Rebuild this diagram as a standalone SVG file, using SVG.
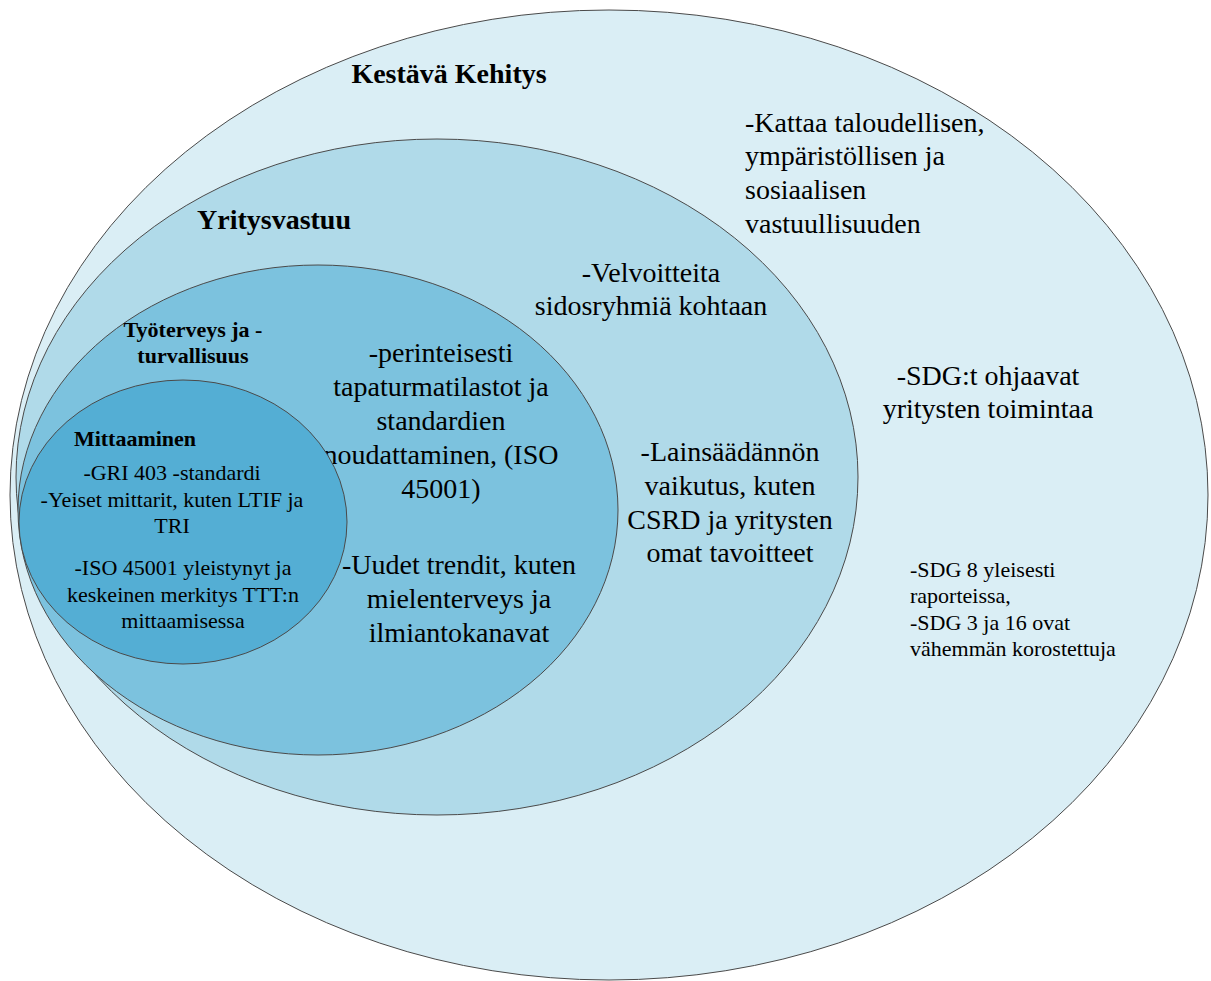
<svg xmlns="http://www.w3.org/2000/svg" width="1211" height="981" viewBox="0 0 1211 981">
<style>
  .e { stroke: #4a4a4a; stroke-width: 1; }
  text { font-family: "Liberation Serif", "Times New Roman", serif; fill: #000; }
  .b { font-weight: bold; }
  .t28 { font-size: 28px; }
  .t22 { font-size: 22px; }
  .c { text-anchor: middle; }
</style>
<rect x="0" y="0" width="1211" height="981" fill="#ffffff"/>
<g id="kestava-kehitys">
  <ellipse class="e" cx="609" cy="495" rx="599" ry="485" fill="#daeef5"/>
  <text class="b t28" x="449" y="83" text-anchor="middle">Kestävä Kehitys</text>
  <text class="t28" x="745" y="132">-Kattaa taloudellisen,</text>
  <text class="t28" x="745" y="165">ympäristöllisen ja</text>
  <text class="t28" x="745" y="199">sosiaalisen</text>
  <text class="t28" x="745" y="233">vastuullisuuden</text>
  <text class="t28 c" x="988" y="385">-SDG:t ohjaavat</text>
  <text class="t28 c" x="988" y="418">yritysten toimintaa</text>
  <text class="t22" x="910" y="577">-SDG 8 yleisesti</text>
  <text class="t22" x="910" y="603">raporteissa,</text>
  <text class="t22" x="910" y="630">-SDG 3 ja 16 ovat</text>
  <text class="t22" x="910" y="656">vähemmän korostettuja</text>
</g>
<g id="yritysvastuu">
  <ellipse class="e" cx="437" cy="477" rx="421" ry="338" fill="#b0dae9"/>
  <text class="b t28" x="274" y="229" text-anchor="middle">Yritysvastuu</text>
  <text class="t28 c" x="651" y="282">-Velvoitteita</text>
  <text class="t28 c" x="651" y="315">sidosryhmiä kohtaan</text>
  <text class="t28 c" x="730" y="461">-Lainsäädännön</text>
  <text class="t28 c" x="730" y="495">vaikutus, kuten</text>
  <text class="t28 c" x="730" y="529">CSRD ja yritysten</text>
  <text class="t28 c" x="730" y="562">omat tavoitteet</text>
</g>
<g id="tyoterveys">
  <ellipse class="e" cx="318" cy="510" rx="300" ry="245" fill="#7cc2de"/>
  <text class="b t22 c" x="193" y="337">Työterveys ja -</text>
  <text class="b t22 c" x="193" y="363">turvallisuus</text>
  <text class="t28 c" x="441" y="362">-perinteisesti</text>
  <text class="t28 c" x="441" y="396">tapaturmatilastot ja</text>
  <text class="t28 c" x="441" y="430">standardien</text>
  <text class="t28 c" x="441" y="464">noudattaminen, (ISO</text>
  <text class="t28 c" x="441" y="498">45001)</text>
  <text class="t28 c" x="459" y="574">-Uudet trendit, kuten</text>
  <text class="t28 c" x="459" y="608">mielenterveys ja</text>
  <text class="t28 c" x="459" y="642">ilmiantokanavat</text>
</g>
<g id="mittaaminen">
  <ellipse class="e" cx="183" cy="522" rx="164" ry="142" fill="#54aed4"/>
  <text class="b t22 c" x="135" y="446">Mittaaminen</text>
  <text class="t22 c" x="172" y="480">-GRI 403 -standardi</text>
  <text class="t22 c" x="172" y="507">-Yeiset mittarit, kuten LTIF ja</text>
  <text class="t22 c" x="172" y="533">TRI</text>
  <text class="t22 c" x="183" y="575">-ISO 45001 yleistynyt ja</text>
  <text class="t22 c" x="183" y="602">keskeinen merkitys TTT:n</text>
  <text class="t22 c" x="183" y="628">mittaamisessa</text>
</g>
<g id="connectors"></g>
</svg>
